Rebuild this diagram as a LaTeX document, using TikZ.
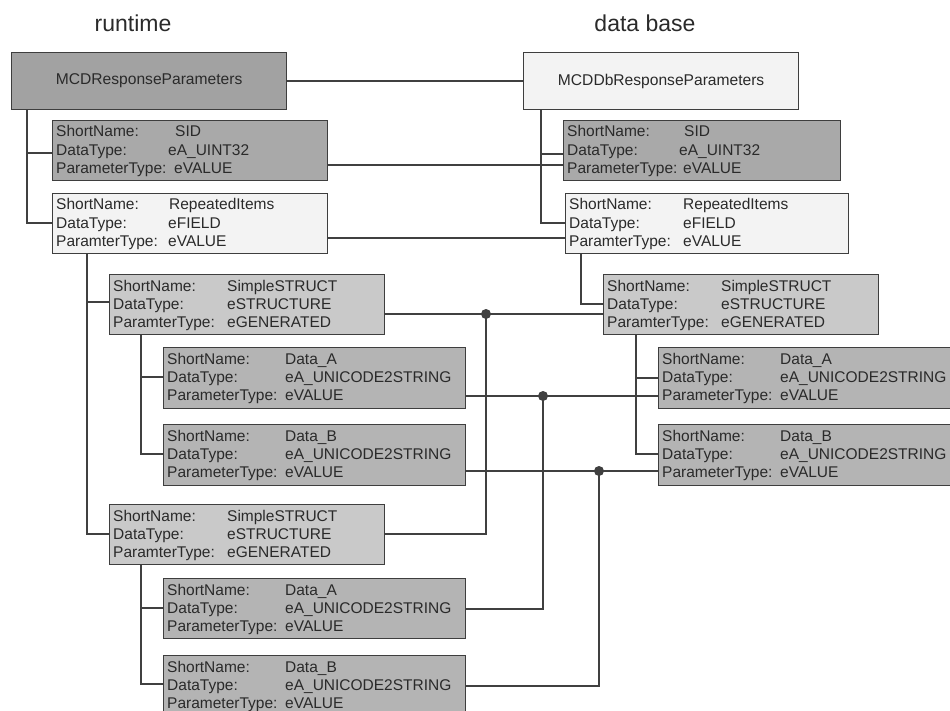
\documentclass[tikz,border=0pt]{standalone}
\usepackage{fontspec}
\setmainfont{Liberation Sans}
\definecolor{cRoot}{HTML}{A2A2A2}
\definecolor{cSid}{HTML}{A9A9A9}
\definecolor{cData}{HTML}{B4B4B4}
\definecolor{cStruct}{HTML}{C9C9C9}
\definecolor{cLight}{HTML}{F3F3F3}
\definecolor{cEdge}{HTML}{3E3E3E}
\definecolor{cWire}{HTML}{404040}
\definecolor{cText}{HTML}{2A2A2A}
% one row of a parameter box: label set in a field of fixed width, then the value
\newcommand\prow[3]{\makebox[#1][l]{#2}#3}
\newcommand\pbox[1]{\begin{tabular}[t]{@{}l@{}}#1\end{tabular}}
\tikzset{
  pbox/.style={draw=cEdge, line width=1.3pt, anchor=north west, inner sep=0pt,
    minimum height=60pt, minimum width=275pt},
  rootbox/.style={pbox, minimum height=57pt, text=cText,
    font=\fontsize{15.6}{18.3}\selectfont},
  ptext/.style={anchor=base west, inner sep=0pt, text=cText,
    font=\fontsize{15.5}{18.3}\selectfont},
  hdr/.style={anchor=base, inner sep=0pt, text=cText, font=\fontsize{23}{27}\selectfont},
  wire/.style={draw=cWire, line width=1.2pt},
  jdot/.style={fill=cWire},
}
\begin{document}
\begin{tikzpicture}[x=1pt,y=-1pt]
\useasboundingbox (0,0) rectangle (950,711);
\fill[white] (0,0) rectangle (950,711);

% column headings
\node[hdr] (hdrL) at (133,32) {runtime};
\node[hdr] (hdrR) at (645,32) {data base};

% root objects
\node[rootbox, fill=cRoot] (rootL) at (11,52) {MCDResponseParameters};
\node[rootbox, fill=cLight] (rootR) at (523,52) {MCDDbResponseParameters};

% runtime parameters
\node[pbox, fill=cSid] (sidL) at (52,120) {};
\node[pbox, fill=cLight] (repL) at (52,193) {};
\node[pbox, fill=cStruct] (stL1) at (109,274) {};
\node[pbox, fill=cData, minimum width=302pt, minimum height=61pt] (daL1) at (163,347) {};
\node[pbox, fill=cData, minimum width=302pt, minimum height=61pt] (dbL1) at (163,424) {};
\node[pbox, fill=cStruct] (stL2) at (109,504) {};
\node[pbox, fill=cData, minimum width=302pt] (daL2) at (163,578) {};
\node[pbox, fill=cData, minimum width=302pt, minimum height=61pt] (dbL2) at (163,655) {};

% data base parameters
\node[pbox, fill=cSid, minimum width=277pt] (sidR) at (563,120) {};
\node[pbox, fill=cLight, minimum width=283pt] (repR) at (565,193) {};
\node[pbox, fill=cStruct] (stR) at (603,274) {};
\node[pbox, fill=cData, minimum width=302pt, minimum height=61pt] (daR) at (658,347) {};
\node[pbox, fill=cData, minimum width=302pt, minimum height=61pt] (dbR) at (658,424) {};

% box contents
\node[ptext] (sidLt) at ([shift={(4pt,-17pt)}]sidL.north west) {\pbox{%
  \prow{119pt}{ShortName:}{SID}\\ \prow{112pt}{DataType:}{eA\_UINT32}\\ \prow{118pt}{ParameterType:}{eVALUE}}};
\node[ptext] (sidRt) at ([shift={(4pt,-17pt)}]sidR.north west) {\pbox{%
  \prow{117pt}{ShortName:}{SID}\\ \prow{112pt}{DataType:}{eA\_UINT32}\\ \prow{116pt}{ParameterType:}{eVALUE}}};
\node[ptext] (repLt) at ([shift={(4pt,-17pt)}]repL.north west) {\pbox{%
  \prow{113pt}{ShortName:}{RepeatedItems}\\ \prow{112pt}{DataType:}{eFIELD}\\ \prow{112pt}{ParamterType:}{eVALUE}}};
\node[ptext] (repRt) at ([shift={(4pt,-17pt)}]repR.north west) {\pbox{%
  \prow{114pt}{ShortName:}{RepeatedItems}\\ \prow{114pt}{DataType:}{eFIELD}\\ \prow{114pt}{ParamterType:}{eVALUE}}};
\foreach \b in {stL1,stL2,stR}{
  \node[ptext] (\b t) at ([shift={(4pt,-17pt)}]\b.north west) {\pbox{%
    \prow{114pt}{ShortName:}{SimpleSTRUCT}\\ \prow{114pt}{DataType:}{eSTRUCTURE}\\ \prow{114pt}{ParamterType:}{eGENERATED}}};
}
\foreach \b in {daL1,daL2,daR}{
  \node[ptext] (\b t) at ([shift={(4pt,-17pt)}]\b.north west) {\pbox{%
    \prow{118pt}{ShortName:}{Data\_A}\\ \prow{118pt}{DataType:}{eA\_UNICODE2STRING}\\ \prow{118pt}{ParameterType:}{eVALUE}}};
}
\foreach \b in {dbL1,dbL2,dbR}{
  \node[ptext] (\b t) at ([shift={(4pt,-17pt)}]\b.north west) {\pbox{%
    \prow{118pt}{ShortName:}{Data\_B}\\ \prow{118pt}{DataType:}{eA\_UNICODE2STRING}\\ \prow{118pt}{ParameterType:}{eVALUE}}};
}

% runtime tree
\draw[wire] (sidL.west |- 0,153) -| (rootL.south -| 27,0);
\draw[wire] (repL.west |- 0,223) -| (rootL.south -| 27,0);
\draw[wire] (stL1.west |- 0,302) -| (repL.south -| 87,0);
\draw[wire] (stL2.west |- 0,534) -| (repL.south -| 87,0);
\draw[wire] (daL1.west |- 0,377) -| (stL1.south -| 141,0);
\draw[wire] (dbL1.west |- 0,454) -| (stL1.south -| 141,0);
\draw[wire] (daL2.west |- 0,608) -| (stL2.south -| 141,0);
\draw[wire] (dbL2.west |- 0,684) -| (stL2.south -| 141,0);

% data base tree
\draw[wire] (sidR.west |- 0,154) -| (rootR.south -| 541,0);
\draw[wire] (repR.west |- 0,223) -| (rootR.south -| 541,0);
\draw[wire] (stR.west |- 0,304) -| (repR.south -| 581,0);
\draw[wire] (daR.west |- 0,378) -| (stR.south -| 636,0);
\draw[wire] (dbR.west |- 0,454) -| (stR.south -| 636,0);

% runtime to data base links
\coordinate (j1) at (486,314);
\coordinate (j2) at (543,396);
\coordinate (j3) at (599,471);
\draw[wire] (rootL.east |- 0,81) -- (rootR.west |- 0,81);
\draw[wire] (sidL.east |- 0,165) -- (sidR.west |- 0,165);
\draw[wire] (repL.east |- 0,238) -- (repR.west |- 0,238);
\draw[wire] (stL1.east |- 0,314) -- (stR.west |- 0,314);
\draw[wire] (stL2.east |- 0,534) -| (j1);
\draw[wire] (daL1.east |- 0,396) -- (daR.west |- 0,396);
\draw[wire] (daL2.east |- 0,609) -| (j2);
\draw[wire] (dbL1.east |- 0,471) -- (dbR.west |- 0,471);
\draw[wire] (dbL2.east |- 0,686) -| (j3);
\fill[jdot] (j1) circle (5pt);
\fill[jdot] (j2) circle (5pt);
\fill[jdot] (j3) circle (5pt);
\end{tikzpicture}
\end{document}
